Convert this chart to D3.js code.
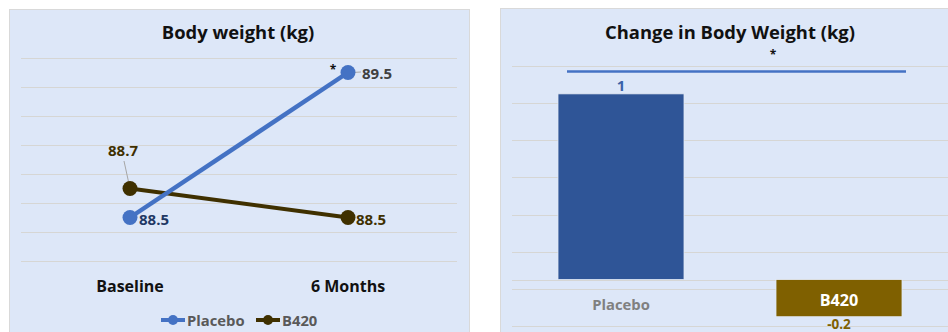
<!DOCTYPE html>
<html>
<head>
<meta charset="utf-8">
<script src="https://cdn.jsdelivr.net/npm/d3@7/dist/d3.min.js"></script>
<style>
  html, body { margin: 0; padding: 0; background: #ffffff; }
  svg { display: block; }
  text { font-family: "Open Sans", Lato, sans-serif; font-weight: bold; }
</style>
</head>
<body>
<svg id="chart" width="948" height="332"></svg>
<script>
// ---- Body weight over time ----
const timepoints = ["Baseline", "6 Months"];
const placeboWeight = [88.5, 89.5];
const b420Weight = [88.7, 88.5];
const weightTicks = [88.2, 88.4, 88.6, 88.8, 89.0, 89.2, 89.4, 89.6];

// ---- Change in body weight ----
const groups = ["Placebo", "B420"];
const weightChange = [1, -0.2];
const changeTicks = [-0.25, -0.05, 0.15, 0.35, 0.55, 0.75, 0.95, 1.15];

const BG = "#dde7f8";
const GRID = "#d6d6d4";
const BLUE = "#4472c4";
const BROWN = "#3f3000";

const svg = d3.select("#chart");

// ---------- Left panel: line chart ----------
const L = svg.append("g");
L.append("rect").attr("x", 9.5).attr("y", 9.5).attr("width", 460).attr("height", 330)
  .attr("fill", BG).attr("stroke", "#d9d9d9");

L.append("text").attr("x", 238).attr("y", 38.5).attr("text-anchor", "middle")
  .attr("font-size", 18.4).attr("fill", "#111").text("Body weight (kg)");

const xL = d3.scalePoint().domain(timepoints).range([21, 457]).padding(0.5);
const yL = d3.scaleLinear().domain([88.2, 89.6]).range([261, 58]);

L.append("g").selectAll("line").data(weightTicks).join("line")
  .attr("x1", 21).attr("x2", 457)
  .attr("y1", d => Math.round(yL(d)) + 0.5).attr("y2", d => Math.round(yL(d)) + 0.5)
  .attr("stroke", GRID).attr("stroke-width", 1.2);

// category labels
L.append("g").selectAll("text").data(timepoints).join("text")
  .attr("x", d => xL(d)).attr("y", 292).attr("text-anchor", "middle")
  .attr("font-size", 16).attr("fill", "#111").text(d => d);

const line = d3.line().x((d, i) => xL(timepoints[i])).y(d => yL(d));

const series = [
  { name: "Placebo", values: placeboWeight, color: BLUE, width: 4.5 },
  { name: "B420", values: b420Weight, color: BROWN, width: 4 }
];

// leader lines for data labels
L.append("line").attr("x1", 124).attr("y1", 161).attr("x2", 129).attr("y2", 184)
  .attr("stroke", "#a6a6a6").attr("stroke-width", 1);
L.append("line").attr("x1", xL(timepoints[1]) + 4).attr("y1", yL(placeboWeight[1]))
  .attr("x2", xL(timepoints[1]) + 13).attr("y2", yL(placeboWeight[1]) - 0.5)
  .attr("stroke", "#a6a6a6").attr("stroke-width", 1);

// draw B420 first so the placebo line crosses over it
series.slice().reverse().forEach(s => {
  L.append("path").datum(s.values).attr("d", line)
    .attr("fill", "none").attr("stroke", s.color).attr("stroke-width", s.width);
});
series.slice().reverse().forEach(s => {
  L.append("g").selectAll("circle").data(s.values).join("circle")
    .attr("cx", (d, i) => xL(timepoints[i])).attr("cy", d => yL(d))
    .attr("r", 7.5).attr("fill", s.color);
});

// data labels
L.append("text").attr("x", xL(timepoints[0]) + 9).attr("y", yL(placeboWeight[0]) + 7)
  .attr("font-size", 15).attr("fill", "#1f3864").text(placeboWeight[0].toFixed(1));
L.append("text").attr("x", xL(timepoints[1]) + 14).attr("y", yL(placeboWeight[1]) + 6.5)
  .attr("font-size", 15).attr("fill", "#404040").text(placeboWeight[1].toFixed(1));
L.append("text").attr("x", 123).attr("y", 155.5).attr("text-anchor", "middle")
  .attr("font-size", 15).attr("fill", BROWN).text(b420Weight[0].toFixed(1));
L.append("text").attr("x", xL(timepoints[1]) + 8).attr("y", yL(b420Weight[1]) + 7)
  .attr("font-size", 15).attr("fill", BROWN).text(b420Weight[1].toFixed(1));
L.append("text").attr("x", 333).attr("y", 74).attr("text-anchor", "middle")
  .attr("font-size", 12).attr("fill", "#111").text("*");

// legend
const legend = L.append("g");
const legendX = [161, 256];
series.forEach((s, i) => {
  const g = legend.append("g").attr("transform", `translate(${legendX[i]},320)`);
  g.append("line").attr("x1", 0).attr("x2", 24).attr("stroke", s.color).attr("stroke-width", 4);
  g.append("circle").attr("cx", 12).attr("r", 5).attr("fill", s.color);
  g.append("text").attr("x", 26).attr("y", 5.5).attr("font-size", 14.8).attr("fill", "#595959").text(s.name);
});

// ---------- Right panel: bar chart ----------
const R = svg.append("g");
R.append("rect").attr("x", 500.5).attr("y", 8.5).attr("width", 460).attr("height", 330)
  .attr("fill", BG).attr("stroke", "#d9d9d9");

R.append("text").attr("x", 730).attr("y", 38.5).attr("text-anchor", "middle")
  .attr("font-size", 18.4).attr("fill", "#111").text("Change in Body Weight (kg)");

const xR = d3.scaleBand().domain(groups).range([512, 948]);
const yR = d3.scaleLinear().domain([-0.25, 1.15]).range([326, 66]);
const barW = xR.bandwidth() * 0.578;

R.append("g").selectAll("line").data(changeTicks).join("line")
  .attr("x1", 512).attr("x2", 948)
  .attr("y1", d => Math.round(yR(d)) + 0.5).attr("y2", d => Math.round(yR(d)) + 0.5)
  .attr("stroke", GRID).attr("stroke-width", 1.2);
R.append("line").attr("x1", 512).attr("x2", 948)
  .attr("y1", Math.round(yR(0)) + 0.5).attr("y2", Math.round(yR(0)) + 0.5)
  .attr("stroke", GRID).attr("stroke-width", 1.2);

const barColors = ["#2f5597", "#7f6000"];
R.append("g").selectAll("rect").data(weightChange).join("rect")
  .attr("x", (d, i) => xR(groups[i]) + (xR.bandwidth() - barW) / 2)
  .attr("y", d => yR(Math.max(0, d)))
  .attr("width", barW)
  .attr("height", d => Math.abs(yR(d) - yR(0)))
  .attr("fill", (d, i) => barColors[i])
  .attr("stroke", "#e4eaf4").attr("stroke-width", 0.8);

const cx = g => xR(g) + xR.bandwidth() / 2;

// significance bar
R.append("line").attr("x1", 567).attr("x2", 906).attr("y1", 71.5).attr("y2", 71.5)
  .attr("stroke", BLUE).attr("stroke-width", 2.5);
R.append("text").attr("x", 773).attr("y", 59).attr("text-anchor", "middle")
  .attr("font-size", 12).attr("fill", "#111").text("*");

// value labels
R.append("text").attr("x", cx(groups[0])).attr("y", yR(weightChange[0]) - 2.5)
  .attr("text-anchor", "middle").attr("font-size", 15).attr("fill", "#3a62a8")
  .text(weightChange[0]);
R.append("text").attr("x", cx(groups[1])).attr("y", 329)
  .attr("text-anchor", "middle").attr("font-size", 13.5).attr("fill", "#7f6000")
  .text(weightChange[1]);

// category labels
R.append("text").attr("x", cx(groups[0])).attr("y", 309.5).attr("text-anchor", "middle")
  .attr("font-size", 14.8).attr("fill", "#808080").text(groups[0]);
R.append("text").attr("x", cx(groups[1])).attr("y", 305.5).attr("text-anchor", "middle")
  .attr("font-size", 16.2).attr("fill", "#ffffff").text(groups[1]);
</script>
</body>
</html>
